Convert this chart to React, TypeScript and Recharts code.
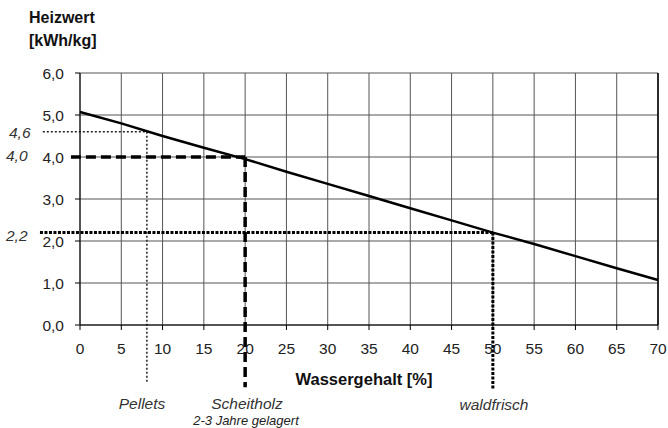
import React from 'react';
import { LineChart, Line, XAxis, YAxis, CartesianGrid, ReferenceLine } from 'recharts';

const waterContent = [0, 5, 10, 15, 20, 25, 30, 35, 40, 45, 50, 55, 60, 65, 70];
const heatingValue = [5.07, 4.8, 4.5, 4.22, 3.95, 3.65, 3.36, 3.07, 2.78, 2.49, 2.2, 1.93, 1.64, 1.35, 1.07];
const xTicks = [0, 5, 10, 15, 20, 25, 30, 35, 40, 45, 50, 55, 60, 65, 70];
const yTicks = [0, 1, 2, 3, 4, 5, 6];

const pelletsMark = { x: 8.1, y: 4.6, xStart: -4.5, yEnd: -1.36 };
const scheitholzMark = { x: 20, y: 4.0, xStart: -1.1, yEnd: -1.48 };
const waldfrischMark = { x: 50, y: 2.2, xStart: -4.85, yEnd: -1.55 };

const data = waterContent.map((w, i) => ({ w, h: heatingValue[i] }));

const font = '"Liberation Sans", Arial, sans-serif';
const fmt = (v: number) => v.toFixed(1).replace('.', ',');

export default function App() {
  return (
    <div style={{ position: 'absolute', left: 0, top: 0, width: 668, height: 428, background: '#fff', fontFamily: font }}>
      <LineChart width={668} height={428} data={data} margin={{ top: 73, right: 10, bottom: 73, left: 0 }}>
        <CartesianGrid stroke="#555" strokeWidth={1} horizontalValues={yTicks} verticalValues={xTicks} />
        <XAxis
          dataKey="w"
          type="number"
          domain={[0, 70]}
          ticks={xTicks}
          interval={0}
          height={30}
          stroke="#000"
          tickSize={5}
          tickMargin={13}
          tick={{ fill: '#222', fontSize: 15.5, fontFamily: font }}
          tickLine={{ stroke: '#000' }}
        />
        <YAxis
          type="number"
          domain={[0, 6]}
          ticks={yTicks}
          interval={0}
          width={80}
          stroke="#000"
          tickSize={5}
          tickMargin={11}
          tickFormatter={fmt}
          tick={{ fill: '#222', fontSize: 15.5, fontFamily: font }}
          tickLine={{ stroke: '#000' }}
        />
        <ReferenceLine segment={[{ x: 70, y: 0 }, { x: 70, y: 6 }]} stroke="#000" strokeWidth={1.5} ifOverflow="visible" />
        <ReferenceLine segment={[{ x: pelletsMark.xStart, y: pelletsMark.y }, { x: pelletsMark.x, y: pelletsMark.y }]} stroke="#222" strokeWidth={1.5} strokeDasharray="2 2" ifOverflow="visible" />
        <ReferenceLine segment={[{ x: pelletsMark.x, y: pelletsMark.y }, { x: pelletsMark.x, y: pelletsMark.yEnd }]} stroke="#222" strokeWidth={1.5} strokeDasharray="2 2" ifOverflow="visible" />
        <ReferenceLine segment={[{ x: scheitholzMark.xStart, y: scheitholzMark.y }, { x: scheitholzMark.x, y: scheitholzMark.y }]} stroke="#000" strokeWidth={3.5} strokeDasharray="10 5" ifOverflow="visible" />
        <ReferenceLine segment={[{ x: scheitholzMark.x, y: scheitholzMark.y }, { x: scheitholzMark.x, y: scheitholzMark.yEnd }]} stroke="#000" strokeWidth={3.5} strokeDasharray="10 5" ifOverflow="visible" />
        <ReferenceLine segment={[{ x: waldfrischMark.xStart, y: waldfrischMark.y }, { x: waldfrischMark.x, y: waldfrischMark.y }]} stroke="#000" strokeWidth={3} strokeDasharray="3 1.5" ifOverflow="visible" />
        <ReferenceLine segment={[{ x: waldfrischMark.x, y: waldfrischMark.y }, { x: waldfrischMark.x, y: waldfrischMark.yEnd }]} stroke="#000" strokeWidth={3} strokeDasharray="3 1.5" ifOverflow="visible" />
        <Line dataKey="h" type="linear" stroke="#000" strokeWidth={2.5} dot={false} isAnimationActive={false} />
      </LineChart>
      <svg width={668} height={428} style={{ position: 'absolute', left: 0, top: 0, pointerEvents: 'none' }}>
        <g fontFamily={font}>
          <text x={29} y={23} fontSize={16} fontWeight="bold" fill="#111">Heizwert</text>
          <text x={29} y={46} fontSize={16} fontWeight="bold" fill="#111">[kWh/kg]</text>
          <text x={9} y={138} fontSize={15.5} fontStyle="italic" fill="#333">4,6</text>
          <text x={6} y={161} fontSize={15.5} fontStyle="italic" fill="#333">4,0</text>
          <text x={6} y={241} fontSize={15.5} fontStyle="italic" fill="#333">2,2</text>
          <text x={364} y={385} fontSize={16.5} fontWeight="bold" fill="#111" textAnchor="middle">Wassergehalt [%]</text>
          <text x={142} y={409} fontSize={15.5} fontStyle="italic" fill="#333" textAnchor="middle">Pellets</text>
          <text x={247} y={409} fontSize={15.5} fontStyle="italic" fill="#333" textAnchor="middle">Scheitholz</text>
          <text x={246} y={425} fontSize={13} fontStyle="italic" fill="#222" textAnchor="middle">2-3 Jahre gelagert</text>
          <text x={494} y={410} fontSize={15.5} fontStyle="italic" fill="#333" textAnchor="middle">waldfrisch</text>
        </g>
      </svg>
    </div>
  );
}
